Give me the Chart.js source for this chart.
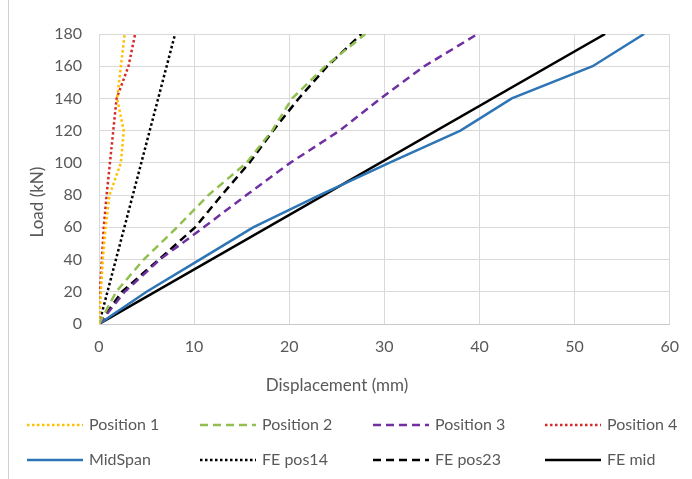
<!DOCTYPE html>
<html>
<head>
<meta charset="utf-8">
<script src="https://cdn.jsdelivr.net/npm/chart.js@4"></script>
<style>
  html, body { margin: 0; padding: 0; background: #fff; }
  #wrap { width: 692px; height: 479px; position: relative; }
</style>
</head>
<body>
<div id="wrap"><canvas id="chart" width="692" height="479"></canvas></div>
<script>
// load steps (kN) shared by the measured series
const loadSteps = [0, 20, 40, 60, 80, 100, 120, 140, 160, 180];

// displacement (mm) at each load step
const pos1Disp = [0, 0.2, 0.4, 0.7, 1.1, 2.3, 2.6, 1.9, 2.3, 2.7];
const pos2Disp = [0, 1.8, 4.7, 8.2, 11.5, 15.5, 18.2, 20.3, 23.8, 28.0];
const pos3Disp = [0, 2.7, 6.4, 11.0, 15.5, 20.1, 25.3, 29.6, 34.2, 39.8];
const pos4Disp = [0, 0.1, 0.3, 0.5, 0.8, 1.15, 1.5, 1.85, 3.1, 3.8];
const midDisp  = [0, 5.0, 10.6, 16.2, 23.2, 30.5, 38.0, 43.4, 51.9, 57.3];

// FE results
const fePos14Disp = [0, 8.0];
const fePos14Load = [0, 180];
const fePos23Disp = [0, 2.4, 6.3, 10.1, 12.9, 15.8, 18.3, 21.0, 24.0, 27.6];
const feMidDisp = [0, 53.2];
const feMidLoad = [0, 180];

const xTicks = { min: 0, max: 60, step: 10 };
const yTicks = { min: 0, max: 180, step: 20 };

const legendCols = [27, 200, 373, 545];
const legendRows = [425, 460];
const txtColor = '#595959';
const fontFam = 'Lato, "Open Sans", sans-serif';

function pts(xs, ys) {
    return xs.map((x, i) => ({ x: x, y: ys[i] }));
}

function series(label, xs, ys, color, dash, width) {
    return {
        label: label,
        data: pts(xs, ys),
        borderColor: color,
        backgroundColor: color,
        borderWidth: width || 2.5,
        borderDash: dash,
        showLine: true,
        pointRadius: 0,
        tension: 0,
        fill: false
    };
}

const dot = [2.5, 2.5];
const dash = [8, 5];

const datasets = [
    series('Position 1', pos1Disp, loadSteps, '#ffc000', dot),
    series('Position 2', pos2Disp, loadSteps, '#92c050', dash),
    series('Position 3', pos3Disp, loadSteps, '#7030a0', dash),
    series('Position 4', pos4Disp, loadSteps, '#d42a2a', dot),
    series('MidSpan', midDisp, loadSteps, '#2e75b6', []),
    series('FE pos14', fePos14Disp, fePos14Load, '#000000', dot),
    series('FE pos23', fePos23Disp, loadSteps, '#000000', dash),
    series('FE mid', feMidDisp, feMidLoad, '#000000', [])
];

// legend in a 4 x 2 grid + axis titles, like the Excel layout
const extrasPlugin = {
    id: 'extras',
    afterDraw(chart) {
        const ctx = chart.ctx;
        ctx.save();
        // left frame edge
        ctx.strokeStyle = '#d0d0d0';
        ctx.lineWidth = 1;
        ctx.beginPath(); ctx.moveTo(8.5, 0); ctx.lineTo(8.5, 479); ctx.stroke();

        chart.data.datasets.forEach((ds, i) => {
            const x = legendCols[i % 4];
            const y = legendRows[Math.floor(i / 4)];
            ctx.strokeStyle = ds.borderColor;
            ctx.lineWidth = ds.borderWidth;
            ctx.setLineDash(ds.borderDash || []);
            ctx.beginPath(); ctx.moveTo(x, y); ctx.lineTo(x + 56, y); ctx.stroke();
            ctx.setLineDash([]);
            ctx.fillStyle = txtColor;
            ctx.font = '16px ' + fontFam;
            ctx.textBaseline = 'middle';
            ctx.textAlign = 'left';
            ctx.fillText(ds.label, x + 62, y);
        });

        // axis titles
        ctx.fillStyle = txtColor;
        ctx.font = '17px ' + fontFam;
        ctx.textAlign = 'center';
        ctx.textBaseline = 'middle';
        ctx.fillText('Displacement (mm)', 337, 386);
        ctx.translate(38, 202);
        ctx.rotate(-Math.PI / 2);
        ctx.fillText('Load (kN)', 0, 0);
        ctx.restore();
    }
};

new Chart(document.getElementById('chart'), {
    type: 'scatter',
    data: { datasets: datasets },
    options: {
        responsive: false,
        animation: false,
        layout: { padding: { top: 34, right: 22, left: 0, bottom: 0 } },
        plugins: { legend: { display: false }, tooltip: { enabled: false } },
        scales: {
            x: {
                type: 'linear',
                min: xTicks.min, max: xTicks.max,
                afterFit: s => { s.height = 155; },
                ticks: { stepSize: xTicks.step, color: txtColor, padding: 13, font: { family: fontFam, size: 16 } },
                grid: { color: '#d9d9d9', drawTicks: false },
                border: { color: '#c8c8c8' }
            },
            y: {
                type: 'linear',
                min: yTicks.min, max: yTicks.max,
                afterFit: s => { s.width = 99; },
                ticks: { stepSize: yTicks.step, color: txtColor, padding: 17, font: { family: fontFam, size: 16 } },
                grid: { color: '#d9d9d9', drawTicks: false },
                border: { color: '#d9d9d9' }
            }
        }
    },
    plugins: [extrasPlugin]
});
</script>
</body>
</html>
